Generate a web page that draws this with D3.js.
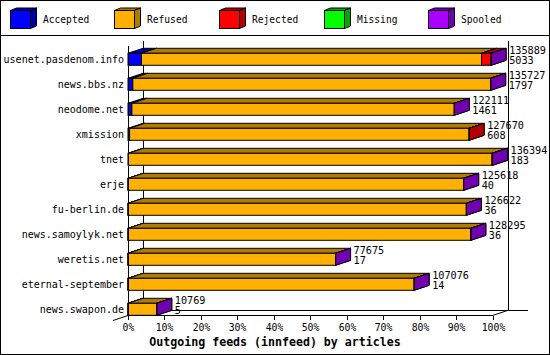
<!DOCTYPE html>
<html><head><meta charset="utf-8">
<script src="https://cdn.jsdelivr.net/npm/d3@7/dist/d3.min.js"></script>
<style>
html,body{margin:0;padding:0;background:#fff;}
svg{display:block;}
text{font-family:"DejaVu Sans Mono",monospace;fill:#000;}
</style></head>
<body>
<svg id="chart" width="550" height="355"></svg>
<script>
// ---- data ----
const categories = ["usenet.pasdenom.info","news.bbs.nz","neodome.net","xmission","tnet","erje","fu-berlin.de","news.samoylyk.net","weretis.net","eternal-september","news.swapon.de"];
const totals   = [135889,135727,122111,127670,136394,125618,126622,128295,77675,107076,10769];
const accepted = [5033,1797,1461,608,183,40,36,36,17,14,5];
const refused  = [127260,133900,120625,127022,136031,125558,126566,128239,77643,107047,10759];
const rejected = [3556,0,0,40,150,0,0,0,0,0,0];
const missing  = [0,0,0,0,0,0,0,0,0,0,0];
const spooled  = [40,30,25,0,30,20,20,20,15,15,5];
const seriesNames = ["Accepted","Refused","Rejected","Missing","Spooled"];
const tickPercents = [0,10,20,30,40,50,60,70,80,90,100];
const titleText = "Outgoing feeds (innfeed) by articles";

const seriesValues = [accepted, refused, rejected, missing, spooled];
const frontColors = ["#0000ff","#ffb000","#ff0000","#00ff00","#aa00ff"];
const darkColors  = ["#0000a8","#b07c00","#b00000","#00a800","#7000b0"];

const svg = d3.select("#chart");
const W = 550, H = 355;
const DX = 15, DY = 5;

// frame
svg.append("rect").attr("x",0.5).attr("y",0.5).attr("width",W-1).attr("height",H-1)
  .attr("fill","#fff").attr("stroke","#000");
svg.append("line").attr("x1",0).attr("x2",W).attr("y1",35.5).attr("y2",35.5).attr("stroke","#000");

// legend
const legX = d3.scaleLinear().domain([0,1]).range([9.5,114.2]);
seriesNames.forEach((name,i)=>{
  const g = svg.append("g").attr("transform",`translate(${Math.round(legX(i))+0.5},10.5)`);
  const w=20,h=18,dx=6,dy=2.5;
  g.append("polygon").attr("points",[[0,0],[w,0],[w+dx,-dy],[dx,-dy]].join(" "))
    .attr("fill",darkColors[i]).attr("stroke","#000");
  g.append("polygon").attr("points",[[w,0],[w+dx,-dy],[w+dx,h-dy],[w,h]].join(" "))
    .attr("fill",darkColors[i]).attr("stroke","#000");
  g.append("rect").attr("width",w).attr("height",h).attr("fill",frontColors[i]).attr("stroke","#000");
  svg.append("text").attr("x",Math.round(legX(i))+33).attr("y",22.5)
    .attr("font-size","9.6px").text(name);
});

// scales
const x = d3.scaleLinear().domain([0,d3.max(totals)]).range([128,492.5]);
const y = d3.scaleBand().domain(categories).range([53.3,315.3]).paddingInner(0.52).paddingOuter(0);
const bw = y.bandwidth();

const x0 = x(0), x1 = x(d3.max(totals));
const yFloor = 315.5, yTop = 45.5;
const ce = {"shape-rendering":"crispEdges"};

function line(a,b,c,d){
  return svg.append("line").attr("x1",a).attr("y1",b).attr("x2",c).attr("y2",d).attr("stroke","#000");
}
// back walls
line(Math.round(x0+DX)+0.5, yTop-DY, Math.round(x0+DX)+0.5, yFloor-DY).attr("shape-rendering","crispEdges");
line(Math.round(x1+DX)+0.5, yTop-DY, Math.round(x1+DX)+0.5, yFloor-DY).attr("shape-rendering","crispEdges");
line(Math.round(x0+DX), yFloor-DY, 528, yFloor-DY).attr("shape-rendering","crispEdges");

// bars
categories.forEach((cat,i)=>{
  let cum = 0;
  const yt = y(cat), yb = yt + bw;
  seriesValues.forEach((arr,s)=>{
    const v = arr[i];
    if(!(v>0)) return;
    const a = x(cum), b = x(cum+v);
    cum += v;
    svg.append("polygon").attr("points",[[a,yt],[b,yt],[b+DX,yt-DY],[a+DX,yt-DY]].join(" "))
      .attr("fill",darkColors[s]).attr("stroke","#000").attr("stroke-linejoin","miter");
    svg.append("polygon").attr("points",[[b,yt],[b+DX,yt-DY],[b+DX,yb-DY],[b,yb]].join(" "))
      .attr("fill",darkColors[s]).attr("stroke","#000");
    svg.append("rect").attr("x",a).attr("y",yt).attr("width",Math.max(0,b-a)).attr("height",bw)
      .attr("fill",frontColors[s]).attr("stroke","#000");
  });
  // category label
  svg.append("text").attr("x",124).attr("y",yt+bw/2).attr("dy","0.36em")
    .attr("text-anchor","end").attr("font-size","10px").text(cat);
  // value labels
  const ex = x(totals[i]) + 18;
  svg.append("text").attr("x",ex).attr("y",yt+0.3).attr("font-size","10.2px").text(totals[i]);
  svg.append("text").attr("x",ex).attr("y",yt+10.9).attr("font-size","10.2px").text(accepted[i]);
});

// front axes
line(Math.round(x0)+0.5, yTop, Math.round(x0)+0.5, yFloor+0.5).attr("shape-rendering","crispEdges");
line(x0, yFloor, x1, yFloor).attr("shape-rendering","crispEdges");
line(x0-DX, yFloor+DY, x0, yFloor);
line(x1, yFloor, x1+DX, yFloor-DY);

// ticks
const maxT = d3.max(totals);
tickPercents.forEach(p=>{
  const tx = Math.round(x(maxT*p/100))+0.5;
  line(tx, yFloor, tx, yFloor+4.5).attr("shape-rendering","crispEdges");
  svg.append("text").attr("x",tx).attr("y",331).attr("text-anchor","middle")
    .attr("font-size","9.8px").text(p+"%");
});

// title
svg.append("text").attr("x",275).attr("y",345.5).attr("text-anchor","middle")
  .attr("font-size","11.6px").attr("font-weight","bold").text(titleText);
</script>
</body></html>
